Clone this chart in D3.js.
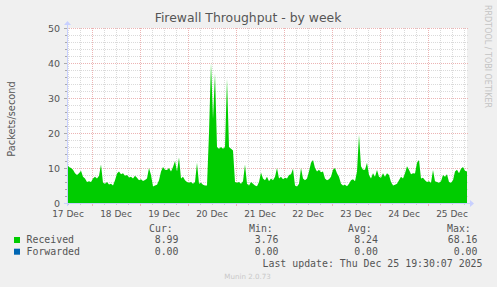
<!DOCTYPE html>
<html>
<head>
<meta charset="utf-8">
<script src="https://cdn.jsdelivr.net/npm/d3@7/dist/d3.min.js"></script>
<style>
  body { margin: 0; background: #f0f0f0; }
  svg { display: block; }
  text { fill: #555; }
</style>
</head>
<body>
<svg width="497" height="287"></svg>
<script>
    // hourly averages (packets/s), starting Dec 17 11:30 UTC
    const received = [
        11, 10.3, 10, 9.5, 8.5, 8, 8.5, 9.2, 7.5, 7,
        6, 6.2, 6, 7, 7.5, 7, 7.8, 11, 5.8, 5.5,
        6, 5.3, 5.5, 5, 6.5, 8.4, 9, 8.2, 8.5, 7.8,
        8, 7.3, 7.5, 7, 7.8, 7.2, 6.5, 6.8, 6.3, 6.6,
        7, 10, 8, 4.7, 5, 5.2, 6.5, 9, 10.3, 9.5,
        9.4, 10, 9, 10.3, 12, 9, 13, 7, 7.5, 6.5,
        6, 5.8, 6, 5.5, 6, 11.5, 5.5, 5.8, 5.2, 5,
        5, 20, 40, 24, 37, 16, 15.5, 16, 15.5, 16,
        35.5, 16, 15.5, 15, 6, 5.8, 6, 5.5, 6.2, 11,
        5.5, 5, 6, 5.5, 5, 4.8, 6, 8.7, 7, 6.5,
        7.5, 6.2, 7, 6.5, 7.5, 10, 7, 7.5, 6.8, 7.2,
        7, 8, 8.2, 9.8, 5, 4.7, 5.5, 10, 7, 6.5,
        7, 9, 11.5, 12.3, 10, 9, 9.5, 8.8, 9, 7,
        6.5, 6.8, 7.5, 9.5, 10, 8.5, 7.5, 5.5, 5, 5.2,
        4.8, 5.5, 6.5, 6.8, 6.2, 9, 19.4, 10.5, 9.5, 9.5,
        11.5, 8, 7, 8.5, 7.5, 9.4, 7.5, 7.2, 8.5, 7.5,
        8.5, 8, 6, 5, 5.2, 5.5, 6.5, 7.5, 7, 8.5,
        10.5, 9.5, 8.2, 8.5, 8.4, 11.5, 12.3, 7, 7.2, 6.5,
        6, 6.2, 5.8, 9.4, 6.2, 6, 5.8, 6.2, 8, 7.5,
        8.2, 6, 5.8, 6.5, 9, 9.5, 8.5, 9.8, 10.3, 9.2,
        9
    ];
    const yTicks = [0, 10, 20, 30, 40, 50];
    const legendRows = [
        { name: "Received", color: "#00cc00", cur: "8.99", min: "3.76", avg: "8.24", max: "68.16" },
        { name: "Forwarded", color: "#0066b3", cur: "0.00", min: "0.00", avg: "0.00", max: "0.00" }
    ];

    const start = Date.UTC(2025, 11, 17, 11, 30);
    const end = Date.UTC(2025, 11, 25, 19, 30);
    const hour = 3600 * 1000;

    const pLeft = 67, pRight = 467, pTop = 28, pBottom = 203;

    const svg = d3.select("svg");

    const x = d3.scaleUtc().domain([start, end]).range([pLeft, pRight]);
    const y = d3.scaleLinear().domain([0, 50]).range([pBottom, pTop]);

    const minorColor = "#dadada", majorColor = "#ecb4b4";

    // plot background
    svg.append("rect")
        .attr("x", pLeft).attr("y", pTop)
        .attr("width", pRight - pLeft).attr("height", pBottom - pTop)
        .attr("fill", "white");

    // grid
    const grid = svg.append("g").attr("shape-rendering", "crispEdges");
    d3.range(0, 51, 2).forEach(v => {
        grid.append("line")
            .attr("x1", pLeft).attr("x2", pRight + 1)
            .attr("y1", Math.round(y(v)) + 0.5).attr("y2", Math.round(y(v)) + 0.5)
            .attr("stroke", v % 10 === 0 ? majorColor : minorColor)
            .attr("stroke-dasharray", "1,1");
        grid.append("line")
            .attr("x1", pLeft - (v % 10 === 0 ? 3 : 2)).attr("x2", pLeft)
            .attr("y1", Math.round(y(v)) + 0.5).attr("y2", Math.round(y(v)) + 0.5)
            .attr("stroke", "#aaa");
    });
    const sixHours = d3.utcHour.every(6).range(new Date(start), new Date(end + 1));
    sixHours.forEach(t => {
        const px = Math.round(x(t)) + 0.5;
        const major = t.getUTCHours() === 0;
        grid.append("line")
            .attr("x1", px).attr("x2", px)
            .attr("y1", pTop).attr("y2", pBottom)
            .attr("stroke", major ? majorColor : minorColor)
            .attr("stroke-dasharray", "1,1");
        grid.append("line")
            .attr("x1", px).attr("x2", px)
            .attr("y1", pBottom).attr("y2", pBottom + (major ? 3 : 2))
            .attr("stroke", major ? majorColor : "#ccc");
    });

    // received area
    const area = d3.area()
        .x((d, i) => x(start + i * hour))
        .y0(y(0))
        .y1(d => y(d));
    svg.append("path")
        .datum(received)
        .attr("d", area)
        .attr("fill", "#00cc00");

    // axes lines with arrows
    const axisColor = "#c8d0ff";
    svg.append("line")
        .attr("x1", pLeft - 3).attr("x2", pRight + 3)
        .attr("y1", pBottom + 0.5).attr("y2", pBottom + 0.5)
        .attr("stroke", axisColor);
    svg.append("path")
        .attr("d", `M${pRight + 3},${pBottom - 3} L${pRight + 7},${pBottom + 0.5} L${pRight + 3},${pBottom + 4} Z`)
        .attr("fill", axisColor);
    svg.append("line")
        .attr("x1", pLeft + 0.5).attr("x2", pLeft + 0.5)
        .attr("y1", pBottom + 3).attr("y2", pTop - 3)
        .attr("stroke", axisColor);
    svg.append("path")
        .attr("d", `M${pLeft - 3},${pTop - 3} L${pLeft + 0.5},${pTop - 7} L${pLeft + 4},${pTop - 3} Z`)
        .attr("fill", axisColor);

    // y tick labels
    svg.append("g")
        .selectAll("text")
        .data(yTicks)
        .join("text")
        .attr("x", 60)
        .attr("y", d => y(d) + 3.5)
        .attr("text-anchor", "end")
        .attr("font-family", "DejaVu Sans")
        .attr("font-size", 9.5)
        .text(d => d);

    // x tick labels at noon
    const noons = d3.utcDay.range(new Date(start - 12 * hour), new Date(end)).map(d => new Date(+d + 12 * hour));
    const fmt = d3.utcFormat("%d Dec");
    svg.append("g")
        .selectAll("text")
        .data(noons.filter(d => +d >= start - hour && +d <= end))
        .join("text")
        .attr("x", d => x(d))
        .attr("y", 216.5)
        .attr("text-anchor", "middle")
        .attr("font-family", "DejaVu Sans")
        .attr("font-size", 9)
        .text(d => fmt(d));

    // title
    svg.append("text")
        .attr("x", 248).attr("y", 22)
        .attr("text-anchor", "middle")
        .attr("font-family", "DejaVu Sans")
        .attr("font-size", 12.4)
        .text("Firewall Throughput - by week");

    // y label
    svg.append("text")
        .attr("transform", "translate(15,119) rotate(-90)")
        .attr("text-anchor", "middle")
        .attr("font-family", "DejaVu Sans")
        .attr("font-size", 9.8)
        .text("Packets/second");

    // watermark
    svg.append("text")
        .attr("transform", "translate(485,5) rotate(90)")
        .attr("font-family", "DejaVu Sans")
        .attr("font-size", 8)
        .style("fill", "#c4c4c4")
        .text("RRDTOOL / TOBI OETIKER");

    // legend
    const mono = "DejaVu Sans Mono";
    const heads = [["Cur:", 149], ["Min:", 249], ["Avg:", 348], ["Max:", 447]];
    heads.forEach(([t, hx]) => {
        svg.append("text").attr("x", hx).attr("y", 231.5)
            .attr("font-family", mono).attr("font-size", 9.9).text(t);
    });
    const valueX = { cur: 178.5, min: 278.5, avg: 378, max: 477.5 };
    legendRows.forEach((r, i) => {
        const ly = 243 + i * 11.7;
        svg.append("rect")
            .attr("x", 14).attr("y", ly - 6)
            .attr("width", 6).attr("height", 6)
            .attr("fill", r.color);
        svg.append("text").attr("x", 26.5).attr("y", ly)
            .attr("font-family", mono).attr("font-size", 9.9).text(r.name);
        Object.keys(valueX).forEach(k => {
            svg.append("text").attr("x", valueX[k]).attr("y", ly)
                .attr("text-anchor", "end")
                .attr("font-family", mono).attr("font-size", 9.9).text(r[k]);
        });
    });
    svg.append("text").attr("x", 482.5).attr("y", 266.5)
        .attr("text-anchor", "end")
        .attr("font-family", mono).attr("font-size", 9.9)
        .text("Last update: Thu Dec 25 19:30:07 2025");

    svg.append("text").attr("x", 247.5).attr("y", 279)
        .attr("text-anchor", "middle")
        .attr("font-family", "DejaVu Sans").attr("font-size", 7.1)
        .style("fill", "#c8c8c8")
        .text("Munin 2.0.73");
</script>
</body>
</html>
